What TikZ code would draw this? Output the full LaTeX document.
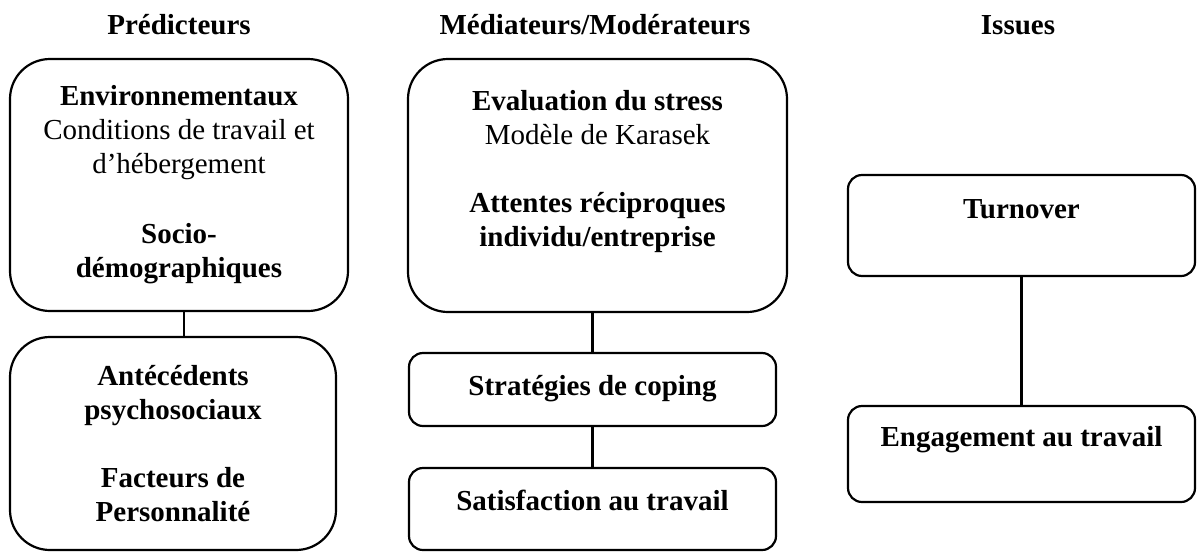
\documentclass[tikz,border=0pt]{standalone}
\usepackage{fontspec}
\setmainfont{Liberation Serif}
\usetikzlibrary{positioning}
\tikzset{
    every path/.style={line width=1.1pt},
    heading/.style={font=\fontsize{14.5}{17}\selectfont\bfseries, anchor=base},
    bigbox/.style={draw, rounded corners=20pt, align=center, inner sep=0pt,
        font=\fontsize{14.5}{17}\selectfont\bfseries},
    smallbox/.style={bigbox, rounded corners=7pt, text height=10pt}
}

\begin{document}
\begin{tikzpicture}[x=0.5pt, y=-0.5pt]
    \useasboundingbox (0,0) rectangle (1197,552);

    % column titles
    \node[heading] (hpred) at (179,34) {Prédicteurs};
    \node[heading] (hmed) at (595,34) {Médiateurs/Modérateurs};
    \node[heading] (hiss) at (1018,34) {Issues};

    % predictors
    \node[bigbox, minimum width=169pt, minimum height=126pt] (env) at (179,185)
        {Environnementaux\\ {\mdseries Conditions de travail et}\\
         {\mdseries d’hébergement}\\[18pt] Socio-\\ démographiques};
    \node[bigbox, minimum width=163pt, minimum height=106.5pt] (ant) at (173,443.5)
        {Antécédents\\ psychosociaux\\[17pt] Facteurs de\\ Personnalité};

    % mediators / moderators
    \node[bigbox, minimum width=189.5pt, minimum height=126.5pt] (eval) at (597.5,185.5)
        {Evaluation du stress\\ {\mdseries Modèle de Karasek}\\[17pt]
         Attentes réciproques\\ individu/entreprise\\ \mbox{}};
    \node[smallbox, minimum width=183.5pt, minimum height=36.5pt, text depth=4.5pt]
        (coping) at (592.5,389.5) {Stratégies de coping};
    \node[smallbox, minimum width=183.5pt, minimum height=41pt, text depth=9pt]
        (satis) at (592.5,509) {Satisfaction au travail};

    % outcomes
    \node[smallbox, minimum width=173.5pt, minimum height=50.5pt, text depth=17.5pt]
        (turn) at (1021.5,225.5) {Turnover};
    \node[smallbox, minimum width=173.5pt, minimum height=48pt, text depth=18pt]
        (engag) at (1021.5,454) {Engagement au travail};

    % links
    \draw ([xshift=2.5pt]env.south) -- ([xshift=2.5pt]env.south |- ant.north);
    \draw (eval.south -| coping) -- (coping.north);
    \draw (coping.south) -- (satis.north);
    \draw (turn.south) -- (engag.north);
\end{tikzpicture}
\end{document}
